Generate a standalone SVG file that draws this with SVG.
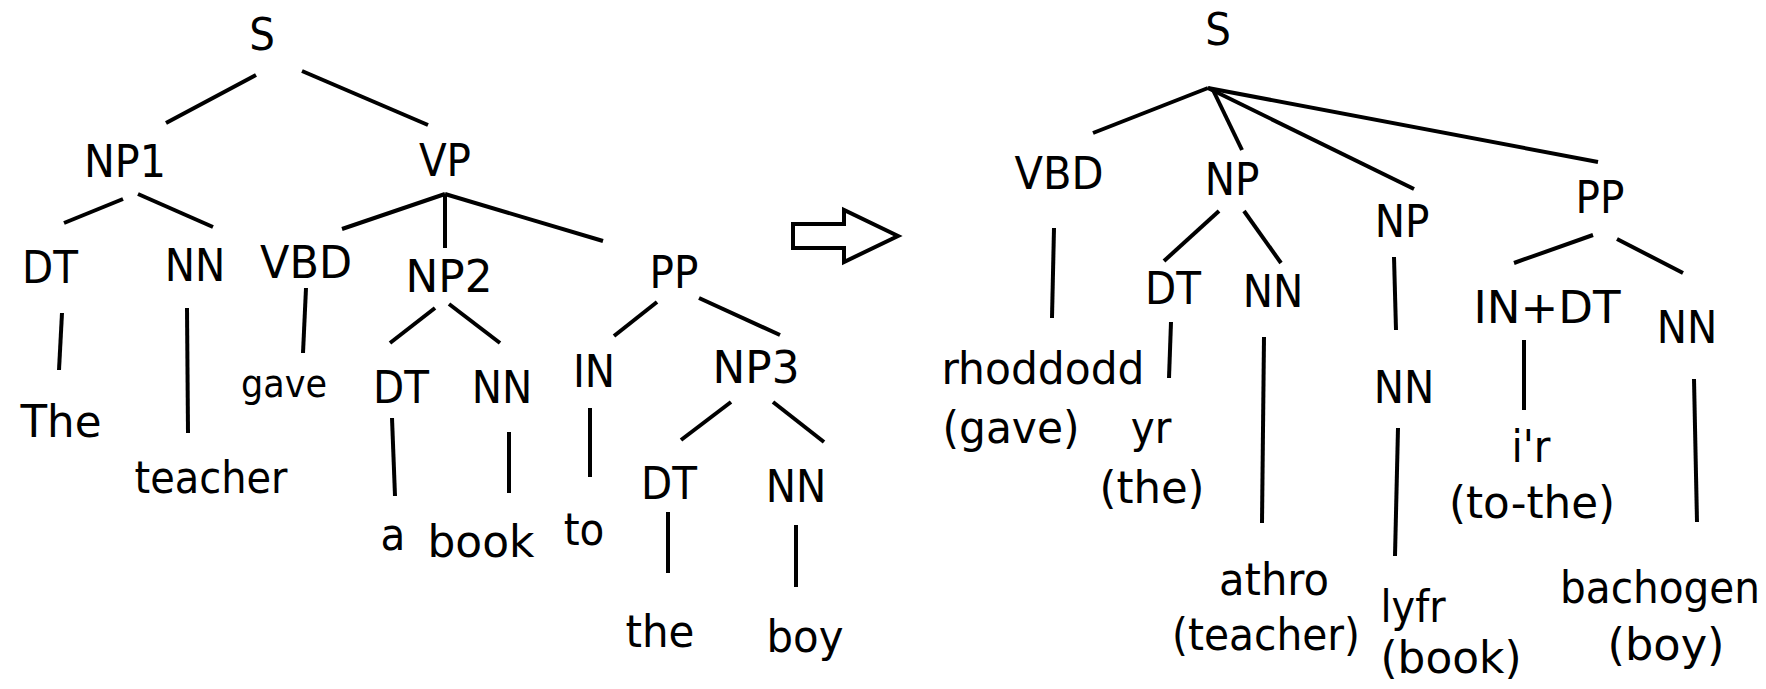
<svg xmlns="http://www.w3.org/2000/svg" width="1766" height="689" viewBox="0 0 1766 689">
<style>
  text { font-family: "DejaVu Sans Condensed", "DejaVu Sans", sans-serif; font-stretch: condensed; font-size: 45px; fill: #000; text-anchor: middle; }
  text.sm { font-size: 39px; }
  .edges line { stroke: #000; stroke-width: 4; stroke-linecap: butt; }
  .arrow { fill: #fff; stroke: #000; stroke-width: 4; stroke-linejoin: miter; }
</style>
<rect width="1766" height="689" fill="#fff"/>

<g id="edges" class="edges">
  <!-- left tree -->
  <line x1="256" y1="75" x2="166" y2="123"/>
  <line x1="302" y1="71" x2="428" y2="125"/>
  <line x1="123" y1="199" x2="64" y2="223"/>
  <line x1="138" y1="194" x2="213" y2="227"/>
  <line x1="445" y1="194" x2="342" y2="229"/>
  <line x1="445" y1="194" x2="445" y2="248"/>
  <line x1="445" y1="194" x2="603" y2="241"/>
  <line x1="62" y1="313" x2="59" y2="370"/>
  <line x1="187" y1="308" x2="188" y2="433"/>
  <line x1="306" y1="288" x2="303" y2="353"/>
  <line x1="435" y1="308" x2="390" y2="343"/>
  <line x1="449" y1="304" x2="500" y2="343"/>
  <line x1="657" y1="302" x2="614" y2="336"/>
  <line x1="699" y1="298" x2="780" y2="335"/>
  <line x1="392" y1="418" x2="395" y2="496"/>
  <line x1="509" y1="432" x2="509" y2="493"/>
  <line x1="590" y1="408" x2="590" y2="477"/>
  <line x1="731" y1="402" x2="681" y2="440"/>
  <line x1="773" y1="402" x2="824" y2="442"/>
  <line x1="668" y1="512" x2="668" y2="573"/>
  <line x1="796" y1="525" x2="796" y2="587"/>
  <!-- right tree -->
  <line x1="1208" y1="88" x2="1093" y2="133"/>
  <line x1="1213" y1="90" x2="1242" y2="150"/>
  <line x1="1208" y1="88" x2="1414" y2="189"/>
  <line x1="1208" y1="88" x2="1598" y2="162"/>
  <line x1="1219" y1="211" x2="1164" y2="261"/>
  <line x1="1244" y1="211" x2="1281" y2="263"/>
  <line x1="1054" y1="228" x2="1052" y2="318"/>
  <line x1="1171" y1="322" x2="1169" y2="378"/>
  <line x1="1264" y1="337" x2="1262" y2="523"/>
  <line x1="1394" y1="257" x2="1396" y2="330"/>
  <line x1="1398" y1="428" x2="1395" y2="556"/>
  <line x1="1593" y1="235" x2="1514" y2="263"/>
  <line x1="1617" y1="239" x2="1683" y2="273"/>
  <line x1="1524" y1="340" x2="1524" y2="410"/>
  <line x1="1694" y1="379" x2="1697" y2="522"/>
</g>

<g id="transform-arrow">
  <polygon class="arrow" points="793,224 844,224 844,210 898,236 844,262 844,248 793,248"/>
</g>

<!-- left tree nodes -->
<g id="L-S"><text x="262" y="50">S</text></g>
<g id="L-NP1"><text x="125" y="177" textLength="82" lengthAdjust="spacingAndGlyphs">NP1</text></g>
<g id="L-VP"><text x="445" y="176">VP</text></g>
<g id="L-DT1"><text x="50" y="283">DT</text></g>
<g id="L-NN1"><text x="195" y="281">NN</text></g>
<g id="L-VBD"><text x="306" y="278" textLength="92" lengthAdjust="spacingAndGlyphs">VBD</text></g>
<g id="L-NP2"><text x="449" y="292" textLength="87" lengthAdjust="spacingAndGlyphs">NP2</text></g>
<g id="L-PP"><text x="674" y="288">PP</text></g>
<g id="L-The"><text x="61" y="437" textLength="81" lengthAdjust="spacingAndGlyphs">The</text></g>
<g id="L-teacher"><text x="211" y="493" textLength="153" lengthAdjust="spacingAndGlyphs">teacher</text></g>
<g id="L-gave"><text class="sm" x="284" y="397" textLength="86" lengthAdjust="spacingAndGlyphs">gave</text></g>
<g id="L-DT2"><text x="401" y="403">DT</text></g>
<g id="L-NN2"><text x="502" y="403">NN</text></g>
<g id="L-IN"><text x="594" y="387">IN</text></g>
<g id="L-NP3"><text x="756" y="383" textLength="87" lengthAdjust="spacingAndGlyphs">NP3</text></g>
<g id="L-a"><text x="393" y="550">a</text></g>
<g id="L-book"><text x="481" y="557" textLength="107" lengthAdjust="spacingAndGlyphs">book</text></g>
<g id="L-to"><text x="584" y="545">to</text></g>
<g id="L-DT3"><text x="669" y="499">DT</text></g>
<g id="L-NN3"><text x="796" y="502">NN</text></g>
<g id="L-the"><text x="660" y="647" textLength="69" lengthAdjust="spacingAndGlyphs">the</text></g>
<g id="L-boy"><text x="805" y="652" textLength="77" lengthAdjust="spacingAndGlyphs">boy</text></g>

<!-- right tree nodes -->
<g id="R-S"><text x="1218" y="45">S</text></g>
<g id="R-VBD"><text x="1059" y="189" textLength="89" lengthAdjust="spacingAndGlyphs">VBD</text></g>
<g id="R-NP1"><text x="1232" y="195">NP</text></g>
<g id="R-NP2"><text x="1402" y="237">NP</text></g>
<g id="R-PP"><text x="1600" y="213">PP</text></g>
<g id="R-DT"><text x="1173" y="304">DT</text></g>
<g id="R-NN1"><text x="1273" y="307">NN</text></g>
<g id="R-rhoddodd">
  <text x="1043" y="384" textLength="203" lengthAdjust="spacingAndGlyphs">rhoddodd</text>
  <text x="1011" y="443" textLength="137" lengthAdjust="spacingAndGlyphs">(gave)</text>
</g>
<g id="R-yr">
  <text x="1151" y="443">yr</text>
  <text x="1152" y="503" textLength="105" lengthAdjust="spacingAndGlyphs">(the)</text>
</g>
<g id="R-NN2"><text x="1404" y="403">NN</text></g>
<g id="R-athro">
  <text x="1274" y="595" textLength="110" lengthAdjust="spacingAndGlyphs">athro</text>
  <text x="1266" y="650" textLength="188" lengthAdjust="spacingAndGlyphs">(teacher)</text>
</g>
<g id="R-lyfr">
  <text x="1413" y="622" textLength="65" lengthAdjust="spacingAndGlyphs">lyfr</text>
  <text x="1451" y="673" textLength="141" lengthAdjust="spacingAndGlyphs">(book)</text>
</g>
<g id="R-INDT"><text x="1547" y="323" textLength="147" lengthAdjust="spacingAndGlyphs">IN+DT</text></g>
<g id="R-NN3"><text x="1687" y="343">NN</text></g>
<g id="R-ir">
  <text x="1531" y="462">i'r</text>
  <text x="1532" y="518" textLength="166" lengthAdjust="spacingAndGlyphs">(to-the)</text>
</g>
<g id="R-bachogen">
  <text x="1660" y="603" textLength="200" lengthAdjust="spacingAndGlyphs">bachogen</text>
  <text x="1666" y="660" textLength="117" lengthAdjust="spacingAndGlyphs">(boy)</text>
</g>
</svg>
